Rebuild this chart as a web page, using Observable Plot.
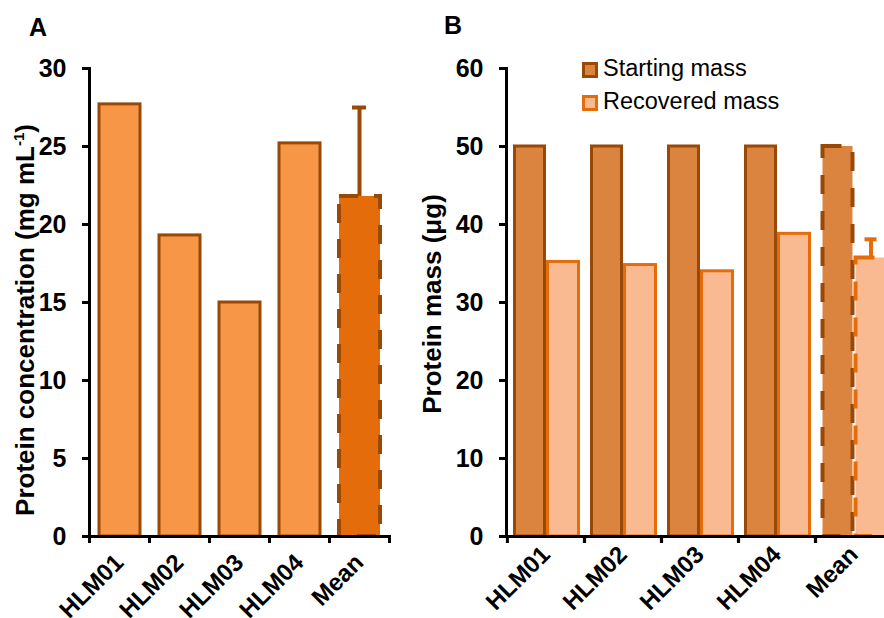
<!DOCTYPE html>
<html>
<head>
<meta charset="utf-8">
<script src="https://cdn.jsdelivr.net/npm/d3@7"></script>
<script src="https://cdn.jsdelivr.net/npm/@observablehq/plot@0.6"></script>
<style>
  html, body { margin: 0; padding: 0; background: #fff; }
  #wrap { position: relative; width: 884px; height: 618px; overflow: hidden; background: #fff;
          font-family: "Liberation Sans", Arial, sans-serif; }
  .panel { position: absolute; top: 0; }
  .letter { position: absolute; font-weight: bold; font-size: 25px; line-height: 1; }
  .ytitle { position: absolute; font-weight: bold; font-size: 26px; white-space: nowrap;
            transform: translate(-50%, -50%) rotate(-90deg); line-height: 1; }
  .ytitle sup { font-size: 15px; vertical-align: 10px; }
  .legend { position: absolute; left: 582px; top: 52px; font-size: 23.5px; line-height: 33px; }
  .legend .row { display: flex; align-items: center; }
  .legend .sw { width: 10px; height: 10px; border: 3px solid; margin-right: 5px; margin-top: 3px; }
</style>
</head>
<body>
<div id="wrap">
  <div class="letter" style="left:29px; top:15px;">A</div>
  <div class="letter" style="left:444px; top:13px;">B</div>
  <div class="ytitle" style="left:24px; top:320px;">Protein concentration (mg mL<sup>-1</sup>)</div>
  <div class="ytitle" style="left:432px; top:304px;">Protein mass (μg)</div>
  <div id="panelA" class="panel" style="left:0; width:420px;"></div>
  <div id="panelB" class="panel" style="left:420px; width:480px;"></div>
  <div class="legend" id="legend"></div>
</div>
<script>
// ---- data ----
const categories = ["HLM01", "HLM02", "HLM03", "HLM04", "Mean"];
const concentration = [27.7, 19.3, 15.0, 25.2, 21.8];
const concentrationSD = [0, 0, 0, 0, 5.7];
const startingMass = [50, 50, 50, 50, 50];
const recoveredMass = [35.2, 34.8, 34.0, 38.8, 35.7];
const recoveredSD = [0, 0, 0, 0, 2.4];
const seriesNames = ["Starting mass", "Recovered mass"];
const ticksA = [0, 5, 10, 15, 20, 25, 30];
const ticksB = [0, 10, 20, 30, 40, 50, 60];

// ---- styles ----
const brown = "#984807";
const orange = "#E46C0A";
const fillA = "#F79646";
const fillStart = "#DB843F";
const fillRec = "#F9BA91";
const font = "'Liberation Sans', Arial, sans-serif";

const rowsA = categories.map((c, i) => ({category: c, value: concentration[i], sd: concentrationSD[i]}));
const rowsB = categories.map((c, i) => ({category: c, start: startingMass[i], rec: recoveredMass[i], sd: recoveredSD[i]}));
const isMean = d => d.category === "Mean";
const notMean = d => d.category !== "Mean";

// ---- Panel A ----
const bwA = 60;
const chartA = Plot.plot({
  width: 420, height: 618,
  marginLeft: 89, marginRight: 31, marginTop: 68, marginBottom: 82,
  style: {fontFamily: font, background: "transparent", overflow: "visible"},
  x: {domain: categories, padding: 0, label: null},
  y: {domain: [0, 30], label: null},
  marks: [
    Plot.barY(rowsA.filter(notMean), {x: "category", y: "value", fill: fillA, stroke: brown, strokeWidth: 3, insetLeft: 10, insetRight: 9}),
    Plot.barY(rowsA.filter(isMean), {x: "category", y: "value", fill: orange, stroke: brown, strokeWidth: 4, strokeDasharray: "19,16", insetLeft: 10, insetRight: 9}),
    Plot.ruleX(rowsA.filter(isMean), {x: "category", y1: "value", y2: d => d.value + d.sd, stroke: brown, strokeWidth: 4}),
    Plot.tickY(rowsA.filter(isMean), {x: "category", y: d => d.value + d.sd, stroke: brown, strokeWidth: 4, insetLeft: 23, insetRight: 23}),
    Plot.frame({anchor: "left", strokeWidth: 3}),
    Plot.frame({anchor: "bottom", strokeWidth: 3}),
    Plot.axisY({ticks: ticksA, tickSize: 7, tickPadding: 16, strokeWidth: 3, fontSize: 25, fontWeight: "bold", label: null}),
    Plot.axisX({tickSize: 0, tickRotate: -45, tickPadding: 30, dy: -8, fontSize: 24, fontWeight: "bold", label: null}),
    Plot.axisX({tickFormat: () => "", tickSize: 7, strokeWidth: 3, dx: -bwA / 2, label: null}),
    Plot.axisX({tickFormat: () => "", tickSize: 7, strokeWidth: 3, dx: bwA / 2, label: null})
  ]
});
document.getElementById("panelA").append(chartA);

// ---- Panel B ----
const bwB = (892 - 506) / 5;
const chartB = Plot.plot({
  width: 480, height: 618,
  marginLeft: 86, marginRight: 8, marginTop: 68, marginBottom: 82,
  style: {fontFamily: font, background: "transparent", overflow: "visible"},
  x: {domain: categories, padding: 0, label: null},
  y: {domain: [0, 60], label: null},
  marks: [
    Plot.barY(rowsB.filter(notMean), {x: "category", y: "start", fill: fillStart, stroke: brown, strokeWidth: 3, insetLeft: 7.5, insetRight: 39.5}),
    Plot.barY(rowsB.filter(notMean), {x: "category", y: "rec", fill: fillRec, stroke: orange, strokeWidth: 3, insetLeft: 40.5, insetRight: 5.5}),
    Plot.barY(rowsB.filter(isMean), {x: "category", y: "start", fill: fillStart, stroke: brown, strokeWidth: 4, strokeDasharray: "19,17", insetLeft: 7.5, insetRight: 39.5}),
    Plot.barY(rowsB.filter(isMean), {x: "category", y: "rec", fill: fillRec, stroke: orange, strokeWidth: 4, strokeDasharray: "19,17", insetLeft: 40.5, insetRight: 5.5}),
    Plot.ruleX(rowsB.filter(isMean), {x: "category", y1: "rec", y2: d => d.rec + d.sd, stroke: orange, strokeWidth: 4, dx: 17}),
    Plot.tickY(rowsB.filter(isMean), {x: "category", y: d => d.rec + d.sd, stroke: orange, strokeWidth: 4, dx: 17, insetLeft: 32.5, insetRight: 32.5}),
    Plot.frame({anchor: "left", strokeWidth: 3}),
    Plot.frame({anchor: "bottom", strokeWidth: 3}),
    Plot.axisY({ticks: ticksB, tickSize: 7, tickPadding: 16, strokeWidth: 3, fontSize: 25, fontWeight: "bold", label: null}),
    Plot.axisX({tickSize: 0, tickRotate: -45, tickPadding: 20, dy: -6, fontSize: 24, fontWeight: "bold", label: null}),
    Plot.axisX({tickFormat: () => "", tickSize: 7, strokeWidth: 3, dx: -bwB / 2, label: null}),
    Plot.axisX({tickFormat: () => "", tickSize: 7, strokeWidth: 3, dx: bwB / 2, label: null})
  ]
});
document.getElementById("panelB").append(chartB);

// ---- Legend ----
const legendItems = [
  {name: seriesNames[0], fill: fillStart, stroke: brown},
  {name: seriesNames[1], fill: fillRec, stroke: orange}
];
const leg = document.getElementById("legend");
for (const it of legendItems) {
  const row = document.createElement("div");
  row.className = "row";
  const sw = document.createElement("span");
  sw.className = "sw";
  sw.style.background = it.fill;
  sw.style.borderColor = it.stroke;
  const t = document.createElement("span");
  t.textContent = it.name;
  row.append(sw, t);
  leg.append(row);
}
</script>
</body>
</html>
